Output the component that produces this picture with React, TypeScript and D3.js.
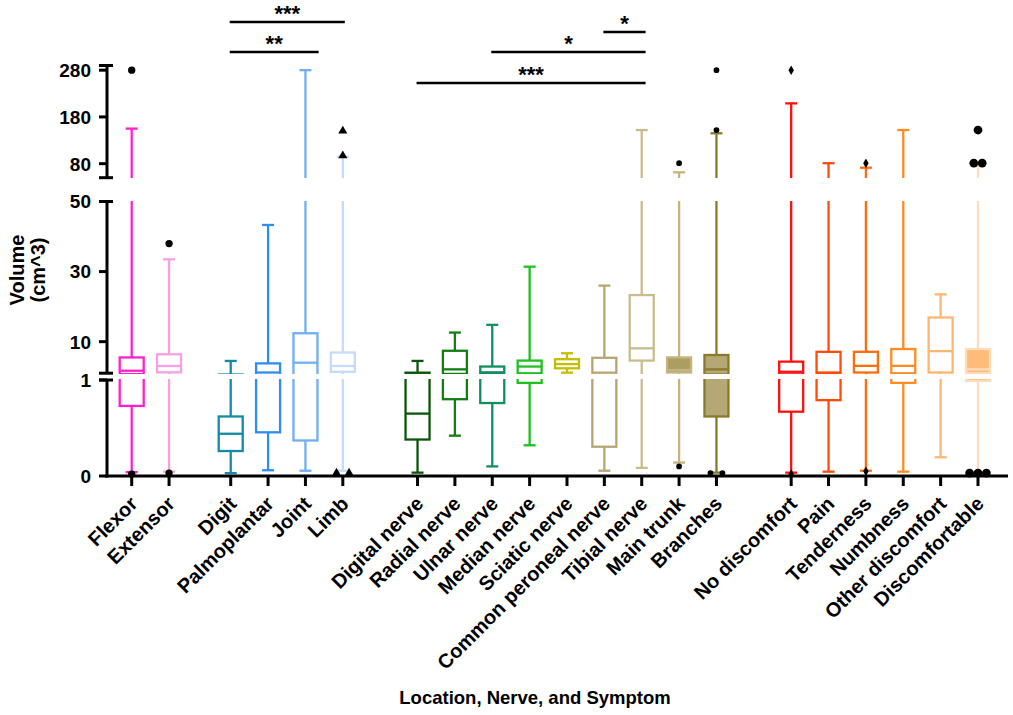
import React from 'react';
import * as d3 from 'd3';

// categories, grouped: location / nerve / symptom
const categories = [
  'Flexor', 'Extensor',
  'Digit', 'Palmoplantar', 'Joint', 'Limb',
  'Digital nerve', 'Radial nerve', 'Ulnar nerve', 'Median nerve', 'Sciatic nerve',
  'Common peroneal nerve', 'Tibial nerve', 'Main trunk', 'Branches',
  'No discomfort', 'Pain', 'Tenderness', 'Numbness', 'Other discomfort', 'Discomfortable',
];
const groupSizes = [2, 4, 9, 6];

// box plot statistics (cm^3)
const mins = [0.04, 0.045, 0.03, 0.06, 0.055, 0.055, 0.035, 0.42, 0.1, 0.32, 1.15, 0.055, 0.085, 0.14, 0.035, 0.035, 0.045, 0.055, 0.045, 0.195, 0.045];
const q1s = [0.73, 1.25, 0.26, 0.455, 0.37, 1.4, 0.38, 0.8, 0.76, 0.97, 2.4, 0.305, 4.6, 1.2, 0.62, 0.67, 0.79, 1.2, 0.97, 1.2, 0.99];
const medians = [1.7, 3.06, 0.44, 1.2, 4.0, 3.06, 0.65, 2.1, 1.25, 2.9, 3.6, 1.15, 8.1, 1.9, 2.1, 1.4, 1.2, 3.1, 3.1, 7.3, 2.1];
const q3s = [5.5, 6.4, 0.62, 3.8, 12.4, 6.9, 1.15, 7.4, 2.9, 4.6, 5.0, 5.4, 23.3, 5.5, 6.2, 4.3, 7.1, 7.1, 7.9, 16.9, 7.9];
const maxs = [155, 33.5, 4.5, 43.3, 280, 95, 4.5, 12.6, 14.8, 31.4, 6.7, 26, 152, 61.5, 145, 209, 81, 71.4, 152, 23.5, 75];
const outliers: number[][] = [
  [280, 0.02], [38, 0.03], [], [], [], [150, 97, 0.03, 0.03],
  [], [], [], [], [], [], [], [81, 0.1], [280, 152, 0.03, 0.03],
  [280, 0.02], [], [81, 0.05], [], [], [152, 81, 81, 0.03, 0.03, 0.03],
];
const markers = [
  'circle', 'circle', 'circle', 'circle', 'circle', 'triangle',
  'dot', 'dot', 'dot', 'dot', 'dot', 'dot', 'dot', 'dot', 'dot',
  'diamond', 'diamond', 'diamond', 'diamond', 'diamond', 'bigcircle',
];

const strokeColors = [
  '#FF22CC', '#F7A1E2',
  '#148AA3', '#2F8DF2', '#6FAFF4', '#C4DCF7',
  '#0A560A', '#137E13', '#118F5E', '#1FC01F', '#C6BE00', '#B5A673', '#C9BD8C', '#C3B57F', '#8A7A2C',
  '#FF1010', '#FF4C0A', '#FF6C0C', '#FF8C22', '#FFB670', '#FFDDBA',
];
const fillColors = [
  'none', 'none', 'none', 'none', 'none', 'none',
  'none', 'none', 'none', 'none', 'none', 'none', 'none', '#AC9D61', '#B6A874',
  'none', 'none', 'none', 'none', 'none', '#FFBB78',
];

// y axis is broken into three segments
const segDomains = [[0, 1], [1, 50], [50, 290]];
const segTicks = [[0, 1], [10, 30, 50], [80, 180, 280]];

const brackets = [
  { from: 'Digit', to: 'Limb', label: '***', extend: 0 },
  { from: 'Digit', to: 'Joint', label: '**', extend: 0.3 },
  { from: 'Common peroneal nerve', to: 'Tibial nerve', label: '*', extend: 0.05 },
  { from: 'Ulnar nerve', to: 'Tibial nerve', label: '*', extend: 0.05 },
  { from: 'Digital nerve', to: 'Tibial nerve', label: '***', extend: 0.05 },
];
const bracketLevels = [22, 52, 32, 52, 83];

const W = 1013;
const H = 715;
const FONT = '"Liberation Sans", Arial, Helvetica, sans-serif';
const axisX = 107;
const segRanges = [[476, 380], [373.2, 201.5], [177.7, 65.5]];
const clipRanges = [[379, 479], [201, 374], [65, 178]];
const boxW = 24;
const capW = 12;

const App: React.FC = () => {
  // slot positions with gaps between groups
  const slots: number[] = [];
  const gaps = [0, 0.65, 1, 1];
  let s = 0;
  groupSizes.forEach((n, g) => {
    s += gaps[g];
    for (let i = 0; i < n; i++) {
      slots.push(s);
      s += 1;
    }
  });
  const x = d3.scaleLinear().domain([0, slots[slots.length - 1]]).range([131.7, 978]);
  const cx = (name: string) => x(slots[categories.indexOf(name)]);

  const yScales = segDomains.map((d, i) => d3.scaleLinear().domain(d).range(segRanges[i]));
  const segOf = (v: number) => (v <= 1 ? 0 : v <= 50 ? 1 : 2);
  const yv = (v: number) => yScales[segOf(v)](v);

  const markerPath = (type: string) => {
    if (type === 'triangle') return d3.symbol(d3.symbolTriangle, 36)()!;
    if (type === 'diamond') return d3.symbol(d3.symbolDiamond, 26)()!;
    if (type === 'dot') return d3.symbol(d3.symbolCircle, 26)()!;
    if (type === 'bigcircle') return d3.symbol(d3.symbolCircle, 60)()!;
    return d3.symbol(d3.symbolCircle, 42)()!;
  };
  const spacing: Record<string, number> = { triangle: 12.6, circle: 8.4, bigcircle: 8.4, dot: 12, diamond: 8 };

  return (
    <svg width={W} height={H} style={{ display: 'block', position: 'absolute', left: 0, top: 0 }}
      fontFamily={FONT} fontWeight="bold">
      <defs>
        {clipRanges.map((r, i) => (
          <clipPath id={`seg-${i}`} key={i}>
            <rect x={axisX + 2} y={r[0]} width={W - axisX} height={r[1] - r[0]} />
          </clipPath>
        ))}
      </defs>

      {/* boxes, drawn once per axis segment */}
      {yScales.map((y, si) => (
        <g key={si} clipPath={`url(#seg-${si})`}>
          {categories.map((c, i) => {
            const xc = x(slots[i]);
            const col = strokeColors[i];
            return (
              <g key={c} stroke={col} strokeWidth={2.3} fill="none">
                <line x1={xc} x2={xc} y1={y(mins[i])} y2={y(q1s[i])} />
                <line x1={xc} x2={xc} y1={y(q3s[i])} y2={y(maxs[i])} />
                <rect x={xc - boxW / 2} width={boxW} y={y(q3s[i])} height={y(q1s[i]) - y(q3s[i])}
                  fill={fillColors[i]} />
                <line x1={xc - boxW / 2} x2={xc + boxW / 2} y1={y(medians[i])} y2={y(medians[i])} />
              </g>
            );
          })}
        </g>
      ))}

      {/* whisker caps */}
      {categories.map((c, i) => {
        const xc = x(slots[i]);
        return (
          <g key={c} stroke={strokeColors[i]} strokeWidth={2.3}>
            <line x1={xc - capW / 2} x2={xc + capW / 2} y1={yv(maxs[i])} y2={yv(maxs[i])} />
            <line x1={xc - capW / 2} x2={xc + capW / 2} y1={yv(mins[i])} y2={yv(mins[i])} />
          </g>
        );
      })}

      {/* axes */}
      <g stroke="#000" strokeWidth={3}>
        {segRanges.map((r, i) => (
          <g key={i}>
            <line x1={axisX} x2={axisX} y1={r[0] + (i === 0 ? 1.5 : 0)} y2={r[1]} />
            {i > 0 && <line x1={axisX - 8} x2={axisX + 6} y1={r[0]} y2={r[0]} />}
            <line x1={axisX - 8} x2={axisX + 6} y1={r[1]} y2={r[1]} />
            {segTicks[i].map(t => (
              <line key={t} x1={axisX - 8} x2={axisX} y1={yScales[i](t)} y2={yScales[i](t)} />
            ))}
          </g>
        ))}
        <line x1={axisX - 1.5} x2={1008} y1={476} y2={476} />
        {categories.map((c, i) => (
          <line key={c} x1={x(slots[i])} x2={x(slots[i])} y1={476} y2={486} />
        ))}
      </g>

      {/* y tick labels */}
      {segTicks.map((ts, i) => ts.map(t => (
        <text key={`${i}-${t}`} x={axisX - 16} y={yScales[i](t)} dy="0.36em" textAnchor="end" fontSize={19}>
          {t}
        </text>
      )))}

      {/* outliers */}
      {categories.map((c, i) => {
        const xc = x(slots[i]);
        const vals = outliers[i];
        return vals.map((v, k) => {
          const same = vals.filter(u => u === v);
          const idx = vals.slice(0, k).filter(u => u === v).length;
          const dx = (idx - (same.length - 1) / 2) * spacing[markers[i]];
          return (
            <path key={`${c}-${k}`} d={markerPath(markers[i])} fill="#000"
              transform={`translate(${xc + dx},${yv(v)})`} />
          );
        });
      })}

      {/* x tick labels */}
      {categories.map((c, i) => (
        <text key={c} transform={`translate(${x(slots[i]) + 7},${505}) rotate(-45)`} textAnchor="end" fontSize={20}>
          {c}
        </text>
      ))}

      {/* significance brackets */}
      {brackets.map((b, i) => {
        const x1 = cx(b.from) - 1;
        const x2 = x(slots[categories.indexOf(b.to)] + b.extend) + 2;
        const yb = bracketLevels[i];
        return (
          <g key={i}>
            <line x1={x1} x2={x2} y1={yb} y2={yb} stroke="#000" strokeWidth={2.5} />
            <text x={(x1 + x2) / 2} y={yb - 1} textAnchor="middle" fontSize={22}>{b.label}</text>
          </g>
        );
      })}

      {/* axis titles */}
      <g transform="translate(0,270) rotate(-90)" fontSize={20}>
        <text x={0} y={24} textAnchor="middle">Volume</text>
        <text x={0} y={45} textAnchor="middle">(cm^3)</text>
      </g>
      <text x={535} y={704} textAnchor="middle" fontSize={18.5}>Location, Nerve, and Symptom</text>
    </svg>
  );
};

export default App;
